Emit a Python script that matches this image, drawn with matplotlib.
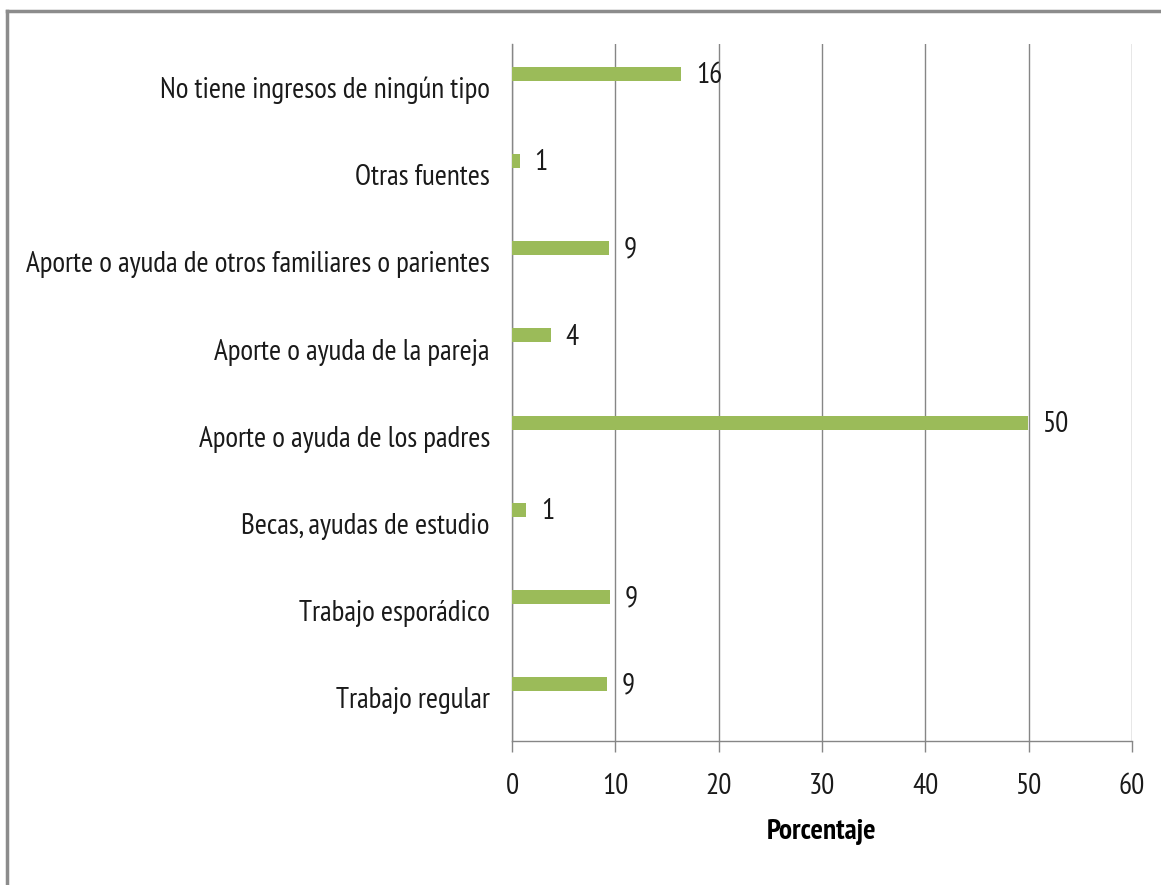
import matplotlib
matplotlib.use("Agg")
import matplotlib.pyplot as plt

categories = [
    "Trabajo regular",
    "Trabajo esporádico",
    "Becas, ayudas de estudio",
    "Aporte o ayuda de los padres",
    "Aporte o ayuda de la pareja",
    "Aporte o ayuda de otros familiares o parientes",
    "Otras fuentes",
    "No tiene ingresos de ningún tipo",
]
values = [9.2, 9.5, 1.4, 49.9, 3.8, 9.4, 0.8, 16.4]
labels = ["9", "9", "1", "50", "4", "9", "1", "16"]
xticks = [0, 10, 20, 30, 40, 50, 60]

FONT = ["PT Sans Narrow", "DejaVu Sans"]
plt.rcParams["font.family"] = FONT

fig = plt.figure(figsize=(11.61, 8.85), dpi=100)
ax = fig.add_axes([512/1161, 1-741/885, (1132-512)/1161, (741-44)/885])

pos = [i + 0.155 for i in range(len(categories))]
ax.barh(pos, values, height=0.16, color="#9BBB59", edgecolor="none", zorder=3)
for p, v, l in zip(pos, values, labels):
    ax.text(v + 1.4, p - 0.02, l, va="center", ha="left", fontsize=21, color="#1a1a1a")

ax.set_xlim(0, 60)
ax.set_ylim(-0.5, len(categories) - 0.5)
ax.set_xticks(xticks)
ax.set_xticklabels([str(t) for t in xticks], fontsize=21, color="#1a1a1a")
ax.set_yticks(range(len(categories)))
ax.set_yticklabels(categories, fontsize=21, color="#1a1a1a")
ax.tick_params(axis="y", length=0, pad=16)
ax.tick_params(axis="x", length=8, width=1, color="#868686", pad=15, direction="out")
ax.grid(axis="x", color="#868686", linewidth=1, zorder=0)
for s in ["top", "right"]:
    ax.spines[s].set_visible(False)
for s in ["left", "bottom"]:
    ax.spines[s].set_color("#868686")
    ax.spines[s].set_linewidth(1)
ax.set_xlabel("Porcentaje", fontsize=21, fontweight="bold", labelpad=14)

# outer frame (partially visible)
fig.add_artist(plt.Line2D([7/1161, 7/1161], [0, 1-11/885], transform=fig.transFigure,
                          color="#8c8c8c", linewidth=2.5))
fig.add_artist(plt.Line2D([7/1161, 1], [1-11/885, 1-11/885], transform=fig.transFigure,
                          color="#8c8c8c", linewidth=2.5))

fig.savefig("out.png", dpi=100, facecolor="white")
